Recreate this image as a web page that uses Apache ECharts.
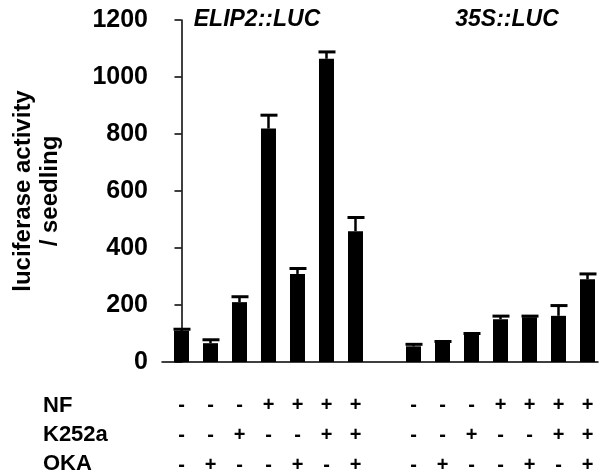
<!DOCTYPE html>
<html>
<head>
<meta charset="utf-8">
<script src="https://cdn.jsdelivr.net/npm/echarts@6/dist/echarts.min.js"></script>
<style>
  html, body { margin: 0; padding: 0; background: #fff; }
  #main { width: 599px; height: 475px; }
</style>
</head>
<body>
<div id="main"></div>
<script>
// bar slots on the x axis (slot 7 is the gap between the two constructs)
const positions = [0, 1, 2, 3, 4, 5, 6, 8, 9, 10, 11, 12, 13, 14];
const activity  = [110, 66, 210, 819, 309, 1064, 459, 55, 70, 96, 150, 157, 162, 290];
const errorTop  = [115, 78, 229, 866, 328, 1088, 507, 62, 72, 100, 161, 161, 198, 309];
const nf    = ['-', '-', '-', '+', '+', '+', '+', '-', '-', '-', '+', '+', '+', '+'];
const k252a = ['-', '-', '+', '-', '-', '+', '+', '-', '-', '+', '-', '-', '+', '+'];
const oka   = ['-', '+', '-', '-', '+', '-', '+', '-', '+', '-', '-', '+', '-', '+'];
const rowNames = ['NF', 'K252a', 'OKA'];
const constructs = ['ELIP2::LUC', '35S::LUC'];
const yTicks = [0, 200, 400, 600, 800, 1000, 1200];

const FONT = 'Liberation Sans, Arial, Helvetica, sans-serif';

const chart = echarts.init(document.getElementById('main'));

const barData = positions.map((p, i) => [p, activity[i]]);
const errData = positions.map((p, i) => [p, activity[i], errorTop[i]]);

function renderError(params, api) {
    const base = api.coord([api.value(0), api.value(1)]);
    const top = api.coord([api.value(0), api.value(2)]);
    return {
        type: 'group',
        children: [
            { type: 'line', shape: { x1: base[0], y1: base[1], x2: top[0], y2: top[1] },
              style: { stroke: '#000', lineWidth: 2.5 } },
            { type: 'rect', shape: { x: top[0] - 8, y: top[1] - 1.5, width: 17, height: 3 },
              style: { fill: '#000' } }
        ]
    };
}

const option = {
    animation: false,
    backgroundColor: '#fff',
    grid: { left: 162, right: 1, top: 20, bottom: 113, containLabel: false, outerBoundsMode: 'none' },
    xAxis: {
        type: 'value',
        min: -0.672,
        max: 14.362,
        splitLine: { show: false },
        axisLine: { show: true, lineStyle: { color: '#000', width: 1.5 } },
        axisTick: { show: false },
        axisLabel: {
            customValues: positions,
            margin: 28,
            color: '#000',
            fontFamily: FONT,
            fontWeight: 'bold',
            fontSize: 20,
            lineHeight: 30,
            formatter: v => {
                const i = positions.indexOf(Math.round(v));
                return i < 0 ? '' : [nf[i], k252a[i], oka[i]].join('\n');
            }
        }
    },
    yAxis: {
        type: 'value',
        min: 0,
        max: 1200,
        interval: 200,
        name: 'luciferase activity\n/ seedling',
        nameLocation: 'middle',
        nameGap: 98,
        nameRotate: 90,
        nameTextStyle: { color: '#000', fontFamily: FONT, fontWeight: 'bold', fontSize: 24, lineHeight: 27 },
        splitLine: { show: false },
        axisLine: { show: true, lineStyle: { color: '#000', width: 1.5 } },
        axisTick: { show: true, length: 7, lineStyle: { color: '#000', width: 1.5 } },
        axisLabel: {
            margin: 14, color: '#000', fontFamily: FONT, fontWeight: 'bold', fontSize: 25,
            formatter: v => yTicks.includes(v) ? String(v) : ''
        }
    },
    series: [
        { type: 'bar', data: barData, barWidth: 15, itemStyle: { color: '#000' } },
        { type: 'custom', data: errData, renderItem: renderError, z: 3 }
    ],
    graphic: [
        { type: 'text', x: 257, y: 20, style: { text: constructs[0], fill: '#000', align: 'center', verticalAlign: 'middle',
            font: 'italic bold 23px ' + FONT } },
        { type: 'text', x: 507, y: 20, style: { text: constructs[1], fill: '#000', align: 'center', verticalAlign: 'middle',
            font: 'italic bold 23px ' + FONT } },
        ...rowNames.map((name, r) => ({
            type: 'text', x: 43, y: 406 + r * 29,
            style: { text: name, fill: '#000', align: 'left', verticalAlign: 'middle', font: 'bold 22px ' + FONT }
        }))
    ]
};

chart.setOption(option);
window.addEventListener('resize', () => chart.resize());
</script>
</body>
</html>
